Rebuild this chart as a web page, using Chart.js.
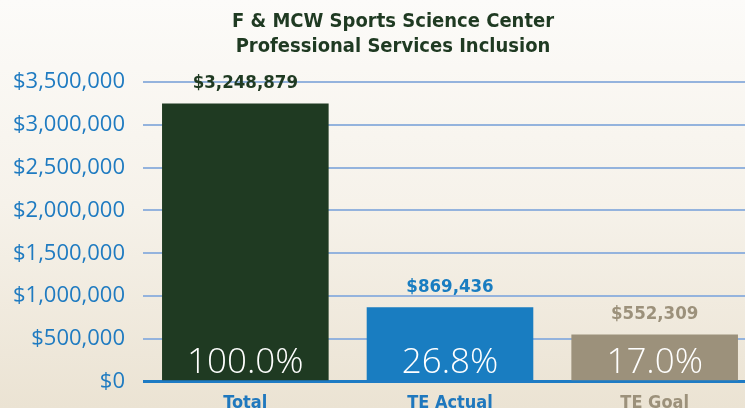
<!DOCTYPE html>
<html>
<head>
<meta charset="utf-8">
<script src="https://cdn.jsdelivr.net/npm/chart.js@4.4.1/dist/chart.umd.min.js"></script>
<style>
  html, body { margin: 0; padding: 0; overflow: hidden; }
  body {
    width: 745px; height: 408px;
    background: linear-gradient(to bottom, #fcfbf9 0%, #f6f2ea 50%, #ebe3d3 100%);
  }
  #wrap { position: relative; width: 757px; height: 408px; overflow: hidden; }
  canvas { display: block; }
</style>
</head>
<body>
<div id="wrap"><canvas id="c" width="757" height="413"></canvas></div>
<script>
var categories = ['Total', 'TE Actual', 'TE Goal'];
var amounts = [3248879, 869436, 552309];
var barColors = ['#1f3a22', '#197dc1', '#9c917b'];
var labelColors = ['#1f3a22', '#197dc1', '#9c917b'];
var axisColors = ['#1f78be', '#1f78be', '#9c917b'];
var titleLines = ['F & MCW Sports Science Center', 'Professional Services Inclusion'];
var yMax = 3500000, yStep = 500000;

function money(v) {
  return '$' + Math.round(v).toLocaleString('en-US');
}

// title, value labels and percentages drawn on the canvas
var labelsPlugin = {
  id: 'labels',
  afterDatasetsDraw: function(chart) {
    var ctx = chart.ctx;
    var meta = chart.getDatasetMeta(0);
    var bottom = chart.chartArea.bottom;
    ctx.save();
    ctx.textAlign = 'center';
    ctx.textBaseline = 'middle';
    ctx.fillStyle = '#1f3a22';
    ctx.font = 'bold 20px "DejaVu Sans Condensed", "DejaVu Sans"';
    ctx.fillText(titleLines[0], 393, 22);
    ctx.fillText(titleLines[1], 393, 47);
    meta.data.forEach(function(bar, i) {
      ctx.textBaseline = 'middle';
      ctx.font = 'bold 18.5px "DejaVu Sans Condensed", "DejaVu Sans"';
      ctx.fillStyle = labelColors[i];
      ctx.fillText(money(amounts[i]), bar.x, bar.y - 20);
      ctx.textBaseline = 'alphabetic';
      ctx.font = '300 35px "Open Sans"';
      ctx.fillStyle = '#ffffff';
      var pct = (amounts[i] / amounts[0] * 100).toFixed(1) + '%';
      ctx.fillText(pct, bar.x, bottom - 9);
    });
    ctx.restore();
  }
};

new Chart(document.getElementById('c'), {
  type: 'bar',
  data: {
    labels: categories,
    datasets: [{
      data: amounts,
      backgroundColor: barColors,
      barPercentage: 0.814,
      categoryPercentage: 1.0
    }]
  },
  options: {
    responsive: false,
    animation: false,
    devicePixelRatio: 1,
    layout: { padding: { top: 82, bottom: 0, left: 0, right: 0 } },
    plugins: { legend: { display: false }, tooltip: { enabled: false } },
    scales: {
      x: {
        afterFit: function(s) { s.height = 27; },
        grid: { display: false },
        border: { display: false },
        ticks: {
          color: function(c) { return axisColors[c.index]; },
          font: { family: '"DejaVu Sans Condensed", "DejaVu Sans"', size: 18, weight: 'bold' },
          padding: 3
        }
      },
      y: {
        min: 0, max: yMax,
        afterFit: function(s) { s.width = 143; },
        border: { display: false },
        grid: {
          drawTicks: false,
          color: function(c) { return c.tick.value === 0 ? '#1e7bc4' : '#94b3dd'; },
          lineWidth: function(c) { return c.tick.value === 0 ? 3 : 2; }
        },
        ticks: {
          stepSize: yStep,
          padding: 18,
          color: '#1f7bc1',
          font: { family: '"Open Sans"', size: 22 },
          callback: function(v) { return money(v); }
        }
      }
    }
  },
  plugins: [labelsPlugin]
});
</script>
</body>
</html>
